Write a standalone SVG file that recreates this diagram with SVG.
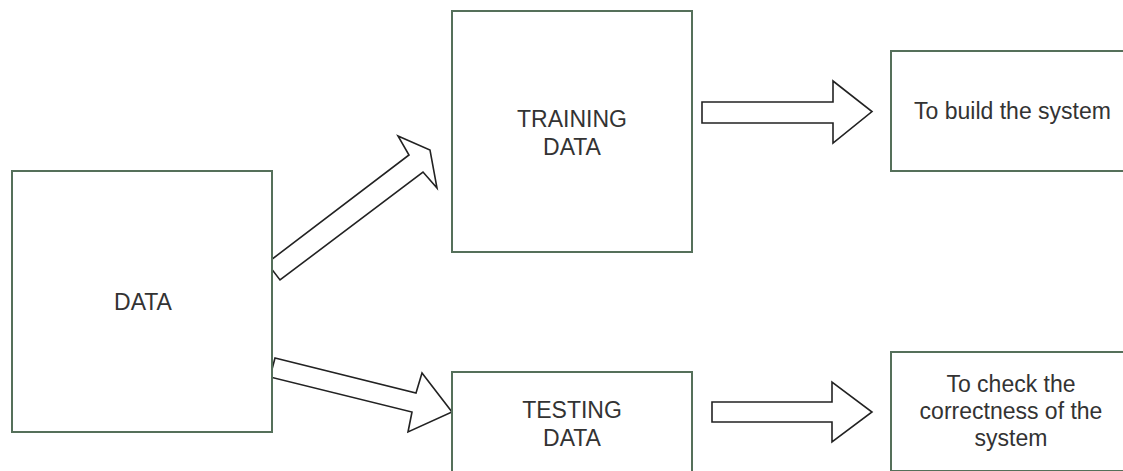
<svg xmlns="http://www.w3.org/2000/svg" width="1123" height="471" viewBox="0 0 1123 471">
  <style>
    .box { fill: #ffffff; stroke: #55705a; stroke-width: 2; }
    .lbl { font-family: "Liberation Sans", Arial, sans-serif; font-size: 23px; fill: #333333; text-anchor: middle; }
    .arrow { fill: #ffffff; stroke: #222222; stroke-width: 1.6; stroke-linejoin: miter; }
  </style>
  <rect width="1123" height="471" fill="#ffffff"/>
  <g id="connectors">
    <polygon class="arrow" points="267,263 409,155 398,136 430,150 437,188 423,172 280,280"/>
    <polygon class="arrow" points="275,358 416,393 422,373 452,412 408,432 412,412 270,377"/>
    <polygon class="arrow" points="702,102 833,102 833,81 872,111.5 833,143 833,123 702,123"/>
    <polygon class="arrow" points="712,402 832,402 832,382 872,412 832,442 832,422 712,422"/>
  </g>
  <g id="node-data">
    <rect class="box" x="12" y="171" width="260" height="261"/>
    <text class="lbl" x="143" y="310">DATA</text>
  </g>
  <g id="node-training">
    <rect class="box" x="452" y="11" width="240" height="241"/>
    <text class="lbl" x="572" y="126.5">TRAINING</text>
    <text class="lbl" x="572" y="154.5">DATA</text>
  </g>
  <g id="node-testing">
    <rect class="box" x="452" y="372" width="240" height="106"/>
    <text class="lbl" x="572" y="418">TESTING</text>
    <text class="lbl" x="572" y="446">DATA</text>
  </g>
  <g id="node-build">
    <rect class="box" x="891" y="51" width="250" height="120"/>
    <text class="lbl" x="1012.5" y="119">To build the system</text>
  </g>
  <g id="node-check">
    <rect class="box" x="891" y="352" width="250" height="119"/>
    <text class="lbl" x="1011" y="392">To check the</text>
    <text class="lbl" x="1011" y="419">correctness of the</text>
    <text class="lbl" x="1011" y="446">system</text>
  </g>
</svg>
